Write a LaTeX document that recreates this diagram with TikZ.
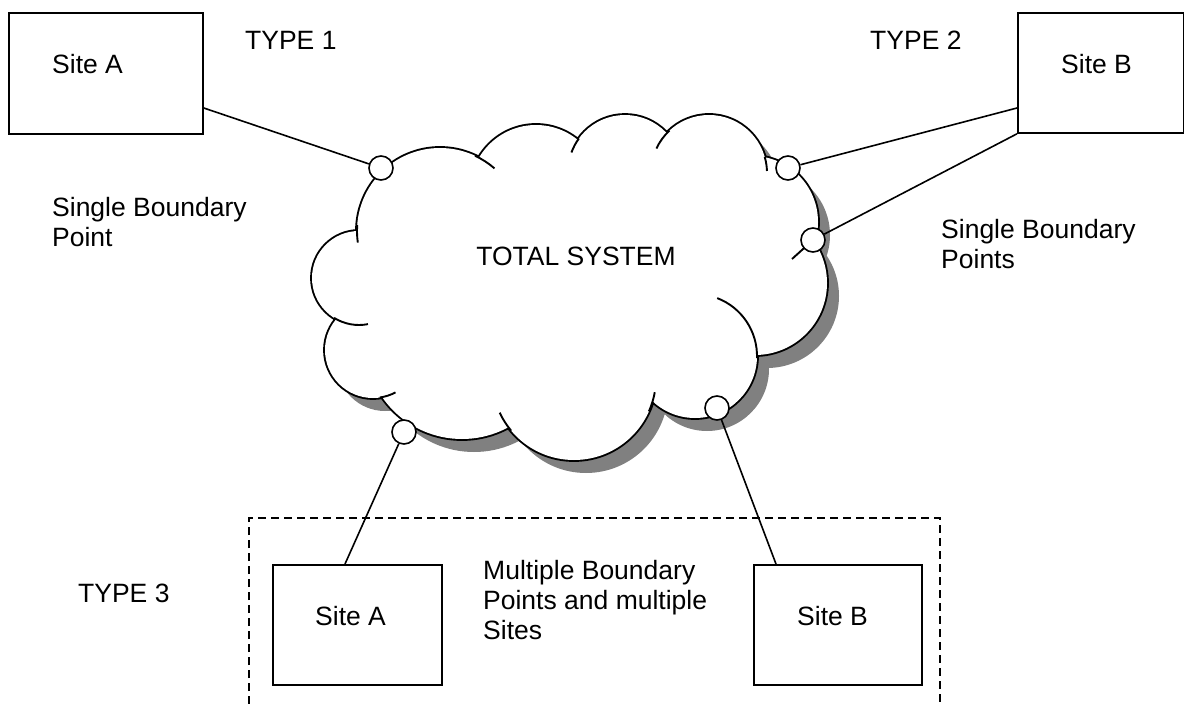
\documentclass[tikz,border=0pt]{standalone}
\usepackage{fontspec}
\setmainfont{Liberation Sans}
\usepackage{tikz}
\usetikzlibrary{positioning}

\newcommand\nubes{440/231/83, 536/191/66, 625/172/57, 709/173/58, 752/222/66, 755/283/72,
  695/356/62, 574/378/82, 462/342/97, 373/350/48, 359/278/47}

\begin{document}
\begin{tikzpicture}[x=1pt, y=-1pt,
  caja/.style={draw, line width=1.8pt, anchor=north west, inner sep=0pt},
  texto/.style={font=\fontsize{26.5}{30}\selectfont, inner sep=0pt, align=left},
  punto/.style={circle, draw, fill=white, line width=1.6pt, minimum size=24pt, inner sep=0pt},
  linea/.style={line width=1.6pt},
  borde/.style={line width=1.9pt}
]
\useasboundingbox (0,0) rectangle (1184,704);

% nube con sombra
\fill[black!50, shift={(12,13)}] \foreach \x/\y/\r in \nubes {(\x,\y) circle[radius=\r]};
\fill[black!50, shift={(12,13)}] (440,231) -- (536,191) -- (625,172) -- (709,173) -- (752,222) -- (755,283)
  -- (695,356) -- (574,378) -- (462,342) -- (373,350) -- (359,278) -- cycle;
\draw[line width=3.8pt] \foreach \x/\y/\r in \nubes {(\x,\y) circle[radius=\r]};
\fill[white] \foreach \x/\y/\r in \nubes {(\x,\y) circle[radius=\r]};
\fill[white] (440,231) -- (536,191) -- (625,172) -- (709,173) -- (752,222) -- (755,283)
  -- (695,356) -- (574,378) -- (462,342) -- (373,350) -- (359,278) -- cycle;
\draw[borde] (440,231) ++(-65:83) arc[start angle=-65, end angle=-49, radius=83];
\draw[borde] (625,172) ++(-144:57) arc[start angle=-144, end angle=-160, radius=57];
\draw[borde] (709,173) ++(-133:58) arc[start angle=-133, end angle=-155, radius=58];
\draw[borde] (709,173) ++(-16:58) arc[start angle=-16, end angle=-2, radius=58];
\draw[borde] (695,356) ++(2:62) arc[start angle=2, end angle=-69, radius=62];
\draw[borde] (574,378) ++(24:82) arc[start angle=24, end angle=10, radius=82];
\draw[borde] (574,378) ++(140:82) arc[start angle=140, end angle=155, radius=82];
\draw[borde] (373,350) ++(82:48) arc[start angle=82, end angle=62, radius=48];
\draw[borde] (359,278) ++(122:47) arc[start angle=122, end angle=79, radius=47];
\draw[borde] (440,231) ++(184:83) arc[start angle=184, end angle=172, radius=83];
\draw[borde] (813,240) -- (792,259);
\node[texto, anchor=base] (total) at (576,265) {TOTAL SYSTEM};

% sitios
\node[caja, minimum width=194pt, minimum height=121pt] (siteA1) at (8,12) {};
\node[caja, minimum width=166pt, minimum height=120pt] (siteB1) at (1017,12) {};
\node[caja, minimum width=169pt, minimum height=120pt] (siteA2) at (272,564) {};
\node[caja, minimum width=168pt, minimum height=120pt] (siteB2) at (753,564) {};
\node[texto, anchor=base west] (siteA1txt) at ([xshift=44pt, yshift=-61pt]siteA1.north west) {Site A};
\node[texto, anchor=base west] (siteB1txt) at ([xshift=44pt, yshift=-61pt]siteB1.north west) {Site B};
\node[texto, anchor=base west] (siteA2txt) at ([xshift=43pt, yshift=-61pt]siteA2.north west) {Site A};
\node[texto, anchor=base west] (siteB2txt) at ([xshift=44pt, yshift=-61pt]siteB2.north west) {Site B};

% puntos frontera
\node[punto] (p1) at (381,168) {};
\node[punto] (p2) at (788,168) {};
\node[punto] (p3) at (813,240) {};
\node[punto] (p4) at (404,432) {};
\node[punto] (p5) at (717,408) {};

\draw[linea] ([yshift=-96pt]siteA1.north east) -- (p1);
\draw[linea] ([yshift=-96pt]siteB1.north west) -- (p2);
\draw[linea] (siteB1.south west) -- (p3);
\draw[linea] ([xshift=73pt]siteA2.north west) -- (p4);
\draw[linea] ([xshift=23pt]siteB2.north west) -- (p5);

\draw[linea, dash pattern=on 8pt off 5pt] (249,704) -- (249,518) -- (940,518) -- (940,704);

% textos
\node[texto, anchor=base west] (tipo1) at (245,49) {TYPE 1};
\node[texto, anchor=base west] (tipo2) at (870,49) {TYPE 2};
\node[texto, anchor=base west] (tipo3) at (78,602) {TYPE 3};
\node[texto, anchor=north west] (unico) at (52,197) {Single Boundary\\Point};
\node[texto, anchor=north west] (unicos) at (941,219) {Single Boundary\\Points};
\node[texto, anchor=north west] (multi) at (483,560) {Multiple Boundary\\Points and multiple\\Sites};
\end{tikzpicture}
\end{document}
